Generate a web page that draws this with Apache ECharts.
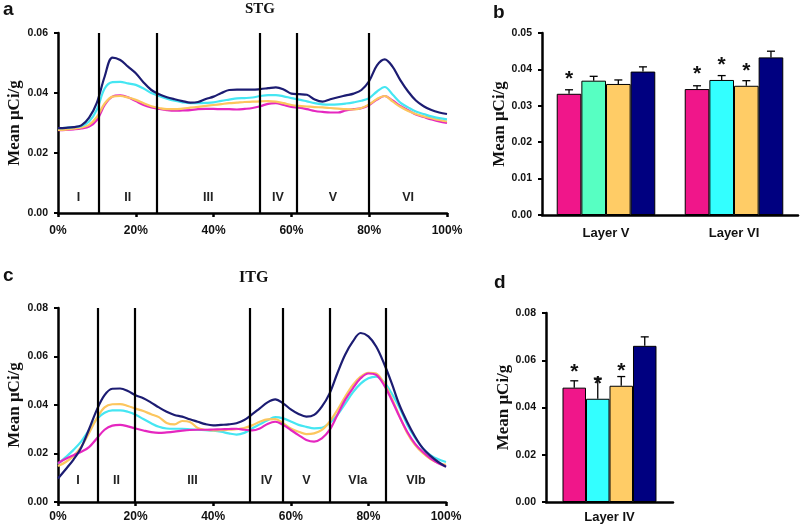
<!DOCTYPE html>
<html>
<head>
<meta charset="utf-8">
<script src="https://cdn.jsdelivr.net/npm/echarts@6/dist/echarts.min.js"></script>
<style>html,body{margin:0;padding:0;background:#fff;}#c{width:800px;height:528px;}</style>
</head>
<body>
<div id="c"></div>
<script>
// ---------- data ----------
const depthPct = [0,2,4,6,8,10,12,14,16,18,20,22,24,26,28,30,32,34,36,38,40,42,44,46,48,50,52,54,56,58,60,62,64,66,68,70,72,74,76,78,80,82,84,86,88,90,92,94,96,98,100];
const pctTicks = [0,20,40,60,80,100];

// STG profiles (Mean µCi/g)
const stgNavy = [0.0283,0.0284,0.0286,0.0292,0.0318,0.0368,0.0455,0.0518,0.0510,0.0488,0.0466,0.0435,0.0410,0.0396,0.0386,0.0379,0.0373,0.0368,0.0370,0.0380,0.0388,0.0400,0.0410,0.0411,0.0411,0.0411,0.0413,0.0416,0.0419,0.0412,0.0398,0.0396,0.0394,0.0378,0.0371,0.0379,0.0386,0.0392,0.0398,0.0410,0.0440,0.0492,0.0512,0.0488,0.0443,0.0405,0.0375,0.0356,0.0343,0.0335,0.0330];
const stgCyan = [0.0283,0.0284,0.0286,0.0290,0.0305,0.0345,0.0415,0.0436,0.0437,0.0432,0.0427,0.0415,0.0400,0.0390,0.0381,0.0374,0.0369,0.0366,0.0366,0.0367,0.0369,0.0374,0.0378,0.0382,0.0383,0.0385,0.0390,0.0393,0.0393,0.0389,0.0383,0.0378,0.0372,0.0366,0.0362,0.0361,0.0362,0.0365,0.0369,0.0374,0.0383,0.0405,0.0420,0.0395,0.0368,0.0352,0.0338,0.0330,0.0322,0.0316,0.0312];
const stgOrange = [0.0277,0.0278,0.0281,0.0285,0.0294,0.0320,0.0365,0.0388,0.0390,0.0385,0.0377,0.0366,0.0356,0.0350,0.0346,0.0346,0.0348,0.0351,0.0354,0.0357,0.0360,0.0363,0.0366,0.0368,0.0370,0.0371,0.0372,0.0373,0.0371,0.0366,0.0360,0.0357,0.0355,0.0353,0.0352,0.0350,0.0348,0.0346,0.0345,0.0350,0.0362,0.0380,0.0390,0.0372,0.0354,0.0340,0.0330,0.0322,0.0316,0.0310,0.0305];
const stgMagenta = [0.0276,0.0277,0.0279,0.0282,0.0288,0.0310,0.0360,0.0388,0.0392,0.0386,0.0373,0.0360,0.0352,0.0347,0.0343,0.0341,0.0342,0.0343,0.0346,0.0347,0.0347,0.0346,0.0346,0.0345,0.0347,0.0350,0.0356,0.0364,0.0366,0.0360,0.0354,0.0351,0.0346,0.0340,0.0337,0.0335,0.0335,0.0342,0.0346,0.0349,0.0360,0.0378,0.0390,0.0375,0.0357,0.0343,0.0328,0.0320,0.0312,0.0305,0.0300];
const stgBounds = [10.5, 25.4, 51.8, 61.3, 80];
const stgLayers = ['I','II','III','IV','V','VI'];

// ITG profiles
const itgNavy = [0.0097,0.0135,0.0175,0.0225,0.0300,0.0380,0.0441,0.0467,0.0468,0.0458,0.0440,0.0428,0.0410,0.0390,0.0372,0.0359,0.0352,0.0341,0.0331,0.0321,0.0316,0.0318,0.0320,0.0325,0.0338,0.0361,0.0386,0.0411,0.0423,0.0407,0.0382,0.0363,0.0352,0.0359,0.0393,0.0448,0.0531,0.0607,0.0662,0.0697,0.0683,0.0641,0.0572,0.0490,0.0400,0.0330,0.0270,0.0222,0.0190,0.0165,0.0145];
const itgCyan = [0.0157,0.0185,0.0215,0.0250,0.0297,0.0342,0.0368,0.0378,0.0378,0.0372,0.0360,0.0342,0.0325,0.0310,0.0303,0.0302,0.0302,0.0300,0.0298,0.0296,0.0294,0.0290,0.0283,0.0278,0.0285,0.0303,0.0320,0.0337,0.0350,0.0345,0.0332,0.0318,0.0310,0.0304,0.0306,0.0326,0.0359,0.0405,0.0452,0.0488,0.0510,0.0517,0.0495,0.0448,0.0390,0.0320,0.0265,0.0222,0.0193,0.0176,0.0165];
const itgOrange = [0.0148,0.0165,0.0190,0.0228,0.0285,0.0345,0.0390,0.0403,0.0404,0.0396,0.0385,0.0375,0.0362,0.0350,0.0326,0.0320,0.0334,0.0330,0.0305,0.0298,0.0295,0.0296,0.0298,0.0300,0.0305,0.0316,0.0331,0.0341,0.0342,0.0325,0.0303,0.0290,0.0280,0.0283,0.0297,0.0331,0.0379,0.0434,0.0483,0.0517,0.0533,0.0530,0.0490,0.0428,0.0355,0.0285,0.0236,0.0202,0.0177,0.0161,0.0153];
const itgMagenta = [0.0160,0.0178,0.0193,0.0207,0.0226,0.0262,0.0298,0.0315,0.0318,0.0312,0.0303,0.0295,0.0288,0.0285,0.0287,0.0290,0.0294,0.0297,0.0298,0.0298,0.0299,0.0300,0.0301,0.0302,0.0298,0.0295,0.0303,0.0322,0.0331,0.0318,0.0297,0.0276,0.0256,0.0249,0.0262,0.0297,0.0359,0.0421,0.0469,0.0510,0.0530,0.0524,0.0483,0.0421,0.0352,0.0290,0.0241,0.0207,0.0180,0.0160,0.0147];
const itgBounds = [10.3, 19.8, 49.5, 58, 70, 84.5];
const itgLayers = ['I','II','III','IV','V','VIa','VIb'];

// Bar panels: means, SEM, significance flags (one entry per bar in group order)
const bCats = ['Layer V', 'Layer VI'];
const bMeans = [[0.0333, 0.0369, 0.0360, 0.0394], [0.0346, 0.0371, 0.0355, 0.0433]];
const bErrs  = [[0.0011, 0.0012, 0.0011, 0.0013], [0.0009, 0.0012, 0.0014, 0.0017]];
const bStars = [[1, 0, 0, 0], [1, 1, 1, 0]];

const dCats = ['Layer IV'];
const dMeans = [[0.0484, 0.0437, 0.0492, 0.0661]];
const dErrs  = [[0.0029, 0.0087, 0.0039, 0.0038]];
const dStars = [[1, 1, 1, 0]];

// ---------- styles ----------
const LINE_COLORS = {navy:'#1c1c72', cyan:'#45e6f2', orange:'#fcc65e', magenta:'#e527c0'};
const B_COLORS = [['#f0168a','#57ffc2','#ffcc66','#000080'], ['#f0168a','#33ffff','#ffcc66','#000080']];
const D_COLORS = [['#f0168a','#33ffff','#ffcc66','#000080']];
const SANS = 'Liberation Sans';
const SERIF = 'Liberation Serif';

const chart = echarts.init(document.getElementById('c'), null, {renderer:'canvas'});

function valueX(grid, labelMargin){
  return {type:'value', gridIndex:grid, min:0, max:100, interval:20,
    axisLine:{show:true, onZero:false, lineStyle:{color:'#000', width:2.5}},
    axisTick:{show:true, length:4, lineStyle:{color:'#000', width:2.5}},
    axisLabel:{formatter:'{value}%', color:'#111', fontFamily:SANS, fontWeight:'bold', fontSize:12, margin:labelMargin},
    splitLine:{show:false}};
}
function valueY(grid, max, interval, nameGap){
  return {type:'value', gridIndex:grid, min:0, max:max, interval:interval,
    name:'Mean μCi/g', nameLocation:'middle', nameGap:nameGap,
    nameTextStyle:{fontFamily:SERIF, fontWeight:'bold', fontSize:17, color:'#111'},
    axisLine:{show:true, lineStyle:{color:'#000', width:2.5}},
    axisTick:{show:true, length:4, lineStyle:{color:'#000', width:2}},
    axisLabel:{formatter:v=>v.toFixed(2), color:'#111', fontFamily:SANS, fontWeight:'bold', fontSize:10.5, margin:10},
    splitLine:{show:false}};
}
function catX(grid, cats, margin){
  return {type:'category', gridIndex:grid, data:cats,
    axisLine:{show:true, lineStyle:{color:'#000', width:2.5}},
    axisTick:{show:false},
    axisLabel:{color:'#111', fontFamily:SANS, fontWeight:'bold', fontSize:13, margin:margin},
    splitLine:{show:false}};
}

function lineSeries(grid, vals, color, extra){
  return Object.assign({type:'line', xAxisIndex:grid, yAxisIndex:grid,
    data: depthPct.map((x,i)=>[x, vals[i]]), showSymbol:false, smooth:0.35,
    lineStyle:{color:color, width:2.2}, itemStyle:{color:color}, silent:true}, extra||{});
}
function boundarySeries(grid, bounds){
  return {type:'line', xAxisIndex:grid, yAxisIndex:grid, data:[], silent:true,
    markLine:{symbol:'none', silent:true, animation:false, label:{show:false},
      lineStyle:{color:'#000', width:2.2, type:'solid'},
      data: bounds.map(b=>({xAxis:b}))}, z:5};
}
function layerLabelSeries(grid, bounds, names, yVal){
  const edges = [0].concat(bounds, [100]);
  return {type:'scatter', xAxisIndex:grid, yAxisIndex:grid, symbolSize:0, silent:true, z:6,
    itemStyle:{color:'rgba(0,0,0,0)'},
    label:{show:true, position:'inside', formatter:'{b}', color:'#222', fontFamily:SANS, fontWeight:'bold', fontSize:12.5, opacity:1},
    data: names.map((n,i)=>({name:n, value:[(edges[i]+edges[i+1])/2, yVal]}))};
}
const GAP_B = 0.23, GAP_D = 0.26;
function barSeries(grid, means, colors, gap){
  const out = [];
  for (let s=0; s<4; s++){
    out.push({type:'bar', xAxisIndex:grid, yAxisIndex:grid, barGap:'0%', barCategoryGap:(gap*100)+'%',
      silent:true,
      data: means.map((g,ci)=>({value:g[s], itemStyle:{color:colors[ci][s], borderColor:'#000', borderWidth:1}}))});
  }
  return out;
}
function errSeries(grid, means, errs, stars, gap){
  const items = [];
  means.forEach((g,ci)=>g.forEach((m,s)=>items.push([ci, s, m, errs[ci][s], stars[ci][s]])));
  return {type:'custom', xAxisIndex:grid, yAxisIndex:grid, silent:true, z:10,
    encode:{x:0, y:2}, data:items,
    renderItem:(params, api)=>{
      const ci=api.value(0), s=api.value(1), m=api.value(2), e=api.value(3), st=api.value(4);
      const base=api.coord([ci, m]), top=api.coord([ci, m+e]);
      const band=api.size([1,0])[0];
      const bw=band*(1-gap)/4;
      const x=base[0]+(s-1.5)*bw;
      const ch=[
        {type:'line', shape:{x1:x, y1:base[1], x2:x, y2:top[1]}, style:{stroke:'#000', lineWidth:1.3}},
        {type:'line', shape:{x1:x-4, y1:top[1], x2:x+4, y2:top[1]}, style:{stroke:'#000', lineWidth:1.3}}
      ];
      if (st) ch.push({type:'text', style:{text:'*', x:x, y:base[1]-15, align:'center', verticalAlign:'middle',
        font:'bold 21px "Liberation Sans"', fill:'#111'}});
      return {type:'group', children:ch};
    }};
}

const option = {
  animation:false,
  backgroundColor:'#fff',
  textStyle:{fontFamily:SANS},
  grid:[
    {left:58, top:33, width:389, height:180},
    {left:542, top:33, width:256, height:182},
    {left:58, top:308, width:388, height:194},
    {left:546, top:313, width:127, height:189}
  ],
  xAxis:[ valueX(0, 12), catX(1, bCats, 12), valueX(2, 9), catX(3, dCats, 9) ],
  yAxis:[ valueY(0, 0.06, 0.02, 35), valueY(1, 0.05, 0.01, 27), valueY(2, 0.08, 0.02, 35), valueY(3, 0.08, 0.02, 33) ],
  graphic:[
    {type:'text', left:3, top:0, style:{text:'a', font:'bold 19px "Liberation Sans"', fill:'#111'}},
    {type:'text', left:493, top:3, style:{text:'b', font:'bold 19px "Liberation Sans"', fill:'#111'}},
    {type:'text', left:3, top:266, style:{text:'c', font:'bold 19px "Liberation Sans"', fill:'#111'}},
    {type:'text', left:494, top:273, style:{text:'d', font:'bold 19px "Liberation Sans"', fill:'#111'}},
    {type:'text', left:245, top:2, style:{text:'STG', font:'bold 15px "Liberation Serif"', fill:'#111'}},
    {type:'text', left:239, top:270, style:{text:'ITG', font:'bold 16px "Liberation Serif"', fill:'#111'}}
  ],
  series:[
    lineSeries(0, stgMagenta, LINE_COLORS.magenta),
    lineSeries(0, stgOrange, LINE_COLORS.orange),
    lineSeries(0, stgCyan, LINE_COLORS.cyan),
    lineSeries(0, stgNavy, LINE_COLORS.navy),
    boundarySeries(0, stgBounds),
    layerLabelSeries(0, stgBounds, stgLayers, 0.0053),
    lineSeries(2, itgCyan, LINE_COLORS.cyan),
    lineSeries(2, itgOrange, LINE_COLORS.orange),
    lineSeries(2, itgMagenta, LINE_COLORS.magenta),
    lineSeries(2, itgNavy, LINE_COLORS.navy),
    boundarySeries(2, itgBounds),
    layerLabelSeries(2, itgBounds, itgLayers, 0.009),
    ...barSeries(1, bMeans, B_COLORS, GAP_B),
    errSeries(1, bMeans, bErrs, bStars, GAP_B),
    ...barSeries(3, dMeans, D_COLORS, GAP_D),
    errSeries(3, dMeans, dErrs, dStars, GAP_D)
  ]
};
chart.setOption(option);
</script>
</body>
</html>
